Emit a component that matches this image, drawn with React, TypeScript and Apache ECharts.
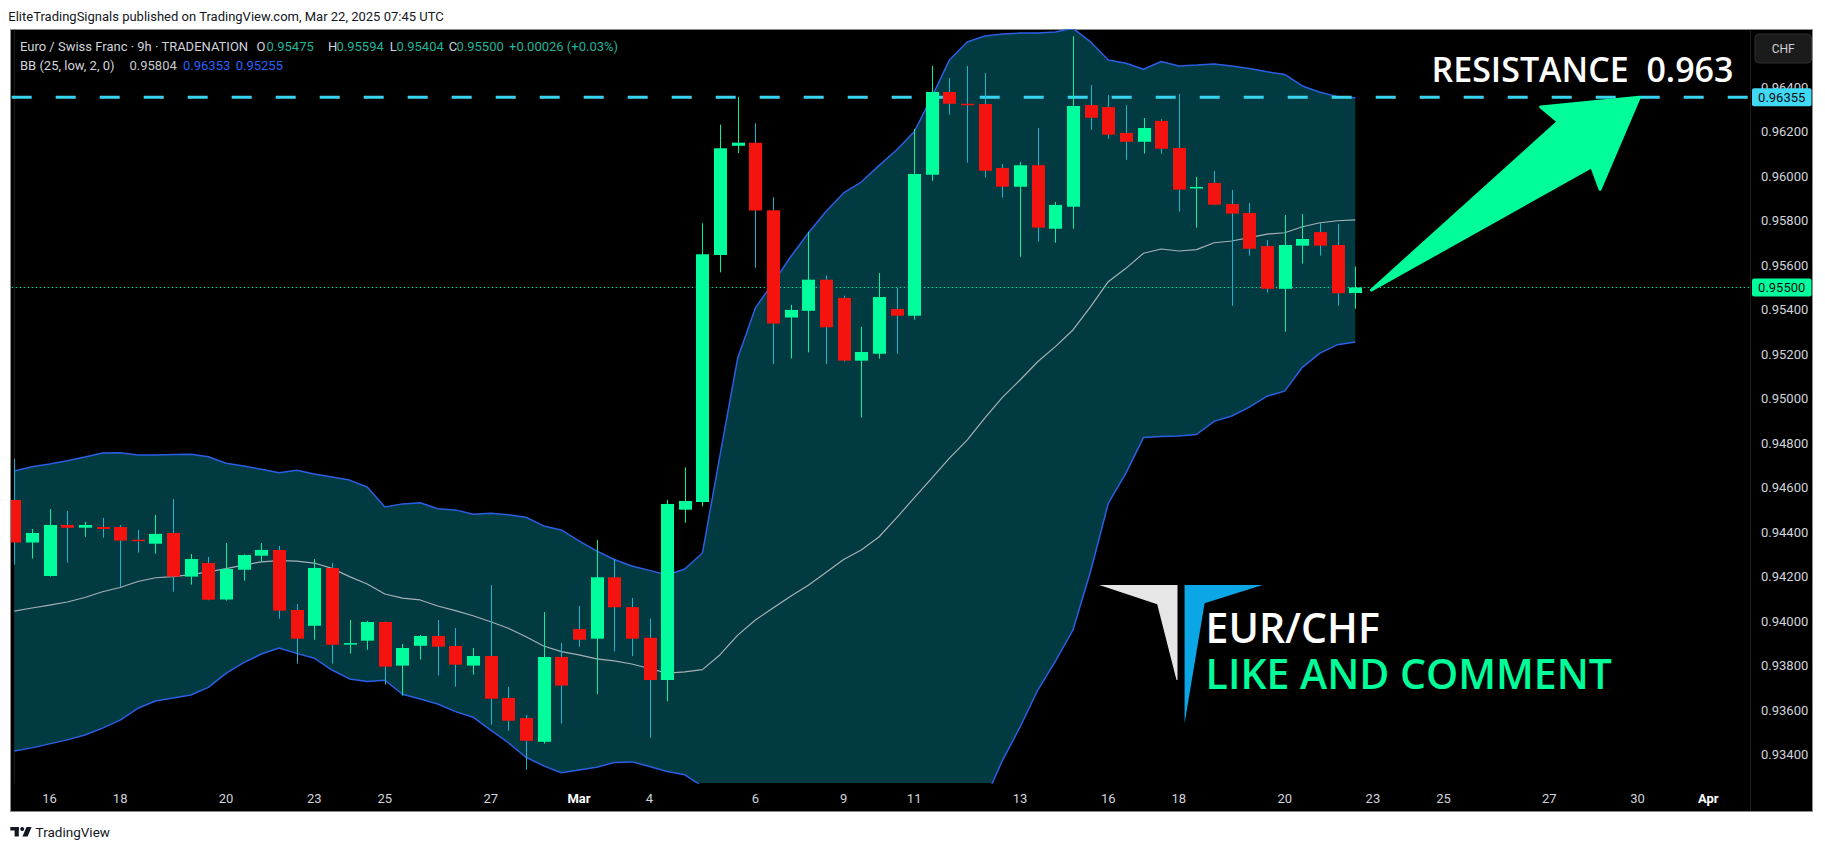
import React, { useEffect, useRef } from "react";
import * as echarts from "echarts";

// ---------- DATA ----------
const opens = [
  0.94544, 0.94353, 0.94203, 0.94432, 0.9442, 0.94423, 0.94423, 0.94366, 0.94348, 0.94396,
  0.942, 0.94261, 0.94097, 0.94231, 0.94294, 0.9432, 0.9405, 0.93979, 0.94239, 0.93899,
  0.93912, 0.93996, 0.938, 0.93889, 0.93933, 0.93888, 0.938, 0.93843, 0.93654, 0.93564,
  0.93458, 0.93839, 0.93964, 0.93921, 0.94197, 0.94063, 0.93925, 0.93735, 0.94501, 0.94535,
  0.95646, 0.96137, 0.96151, 0.95847, 0.95365, 0.95395, 0.95535, 0.95453, 0.95171, 0.95202,
  0.95403, 0.95373, 0.96007, 0.96379, 0.96326, 0.96325, 0.96037, 0.95953, 0.9605, 0.95764,
  0.95863, 0.9632, 0.96311, 0.96195, 0.96155, 0.96249, 0.96127, 0.95949, 0.9597, 0.95875,
  0.95835, 0.95686, 0.95494, 0.95688, 0.95749, 0.95691, 0.95475,
];
const highs = [
  0.94729, 0.94414, 0.94504, 0.94495, 0.94446, 0.94464, 0.94432, 0.9441, 0.94477, 0.94549,
  0.94302, 0.94288, 0.94351, 0.943, 0.94351, 0.94338, 0.94077, 0.94279, 0.94261, 0.94005,
  0.94001, 0.93998, 0.93897, 0.93938, 0.94005, 0.93969, 0.93879, 0.94162, 0.93704, 0.93578,
  0.94041, 0.93902, 0.94068, 0.94365, 0.94277, 0.94104, 0.94011, 0.94545, 0.94691, 0.95789,
  0.96232, 0.96357, 0.96238, 0.95906, 0.95422, 0.9575, 0.95554, 0.95463, 0.95323, 0.95565,
  0.95498, 0.96213, 0.96496, 0.96442, 0.96496, 0.96464, 0.96055, 0.96064, 0.96217, 0.95884,
  0.9663, 0.9641, 0.96365, 0.9632, 0.96262, 0.96257, 0.9637, 0.95997, 0.96024, 0.95938,
  0.9588, 0.95713, 0.95826, 0.9583, 0.9579, 0.95785, 0.95594,
];
const lows = [
  0.94254, 0.94281, 0.942, 0.94263, 0.94379, 0.94375, 0.94153, 0.94308, 0.94303, 0.94132,
  0.94164, 0.94094, 0.94092, 0.94182, 0.94267, 0.94011, 0.93809, 0.93916, 0.93809, 0.93854,
  0.93871, 0.93714, 0.93665, 0.93827, 0.93755, 0.93705, 0.93759, 0.93534, 0.93507, 0.93332,
  0.93449, 0.93539, 0.93885, 0.93671, 0.93863, 0.93842, 0.93475, 0.9364, 0.94442, 0.94516,
  0.95568, 0.96104, 0.95589, 0.95155, 0.95181, 0.95208, 0.95155, 0.95167, 0.94915, 0.9518,
  0.95202, 0.95355, 0.9598, 0.96277, 0.96061, 0.95994, 0.95904, 0.95638, 0.95706, 0.95701,
  0.95764, 0.96209, 0.96169, 0.96074, 0.96102, 0.96101, 0.95841, 0.95769, 0.9587, 0.95418,
  0.95643, 0.95476, 0.95301, 0.95607, 0.95643, 0.95418, 0.95404,
];
const closes = [
  0.94353, 0.94396, 0.94432, 0.9442, 0.94432, 0.94414, 0.94362, 0.9436, 0.94392, 0.942,
  0.94279, 0.94096, 0.94234, 0.94297, 0.9432, 0.94047, 0.93921, 0.94239, 0.93894, 0.93901,
  0.93996, 0.93795, 0.93879, 0.93933, 0.93885, 0.93804, 0.93843, 0.93651, 0.93552, 0.93462,
  0.93839, 0.9371, 0.93916, 0.94197, 0.94062, 0.93921, 0.93735, 0.94526, 0.9454, 0.95649,
  0.96126, 0.96151, 0.95846, 0.95338, 0.95399, 0.95535, 0.95321, 0.95171, 0.9521, 0.95457,
  0.95373, 0.9601, 0.96379, 0.96326, 0.96322, 0.96025, 0.95953, 0.9605, 0.95769, 0.95871,
  0.96316, 0.96263, 0.96187, 0.96155, 0.96217, 0.96124, 0.9594, 0.95952, 0.95872, 0.95832,
  0.95674, 0.95494, 0.95691, 0.95718, 0.95688, 0.95474, 0.955,
];
const bbUpper = [
  0.94675, 0.94694, 0.94706, 0.94721, 0.94738, 0.94756, 0.94757, 0.94747, 0.94747, 0.94749,
  0.9475, 0.94739, 0.9471, 0.94697, 0.94683, 0.94667, 0.94678, 0.94661, 0.94648, 0.94634,
  0.94603, 0.94513, 0.94527, 0.94532, 0.94505, 0.945, 0.9448, 0.94485, 0.94478, 0.94467,
  0.94428, 0.9441, 0.94361, 0.94316, 0.94277, 0.94248, 0.94228, 0.94207, 0.94234, 0.94306,
  0.94747, 0.95183, 0.95408, 0.95521, 0.95638, 0.95745, 0.95842, 0.95925, 0.95974, 0.96048,
  0.96118, 0.962, 0.96356, 0.96523, 0.96604, 0.96631, 0.9664, 0.96644, 0.96644, 0.96649,
  0.96665, 0.96604, 0.96523, 0.96508, 0.96481, 0.96516, 0.96496, 0.965, 0.96505, 0.96496,
  0.96485, 0.9647, 0.96458, 0.96406, 0.96378, 0.96358, 0.96353,
];
const bbBasis = [
  0.94045, 0.94059, 0.94072, 0.94086, 0.94106, 0.94132, 0.94151, 0.94178, 0.94195, 0.942,
  0.94209, 0.94221, 0.94236, 0.94252, 0.94266, 0.94272, 0.9427, 0.94261, 0.94237, 0.942,
  0.94167, 0.94122, 0.94103, 0.94095, 0.94068, 0.94047, 0.94024, 0.93997, 0.93968, 0.9393,
  0.93888, 0.93863, 0.93848, 0.9383, 0.93821, 0.93807, 0.93787, 0.93766, 0.93772, 0.93782,
  0.93849, 0.93937, 0.94005, 0.94059, 0.94112, 0.94161, 0.94219, 0.94277, 0.9432, 0.94378,
  0.94464, 0.94554, 0.94643, 0.94733, 0.94814, 0.94913, 0.95006, 0.95084, 0.95166, 0.95234,
  0.95309, 0.95414, 0.95526, 0.95586, 0.95654, 0.95673, 0.95664, 0.9567, 0.95701, 0.95709,
  0.95724, 0.9574, 0.95746, 0.95773, 0.95791, 0.958, 0.95804,
];
const bbLower = [
  0.93416, 0.9343, 0.93448, 0.93466, 0.93488, 0.93519, 0.93555, 0.93608, 0.93641, 0.93654,
  0.93668, 0.93702, 0.93765, 0.93813, 0.93852, 0.93879, 0.93855, 0.93833, 0.9378, 0.9374,
  0.93728, 0.93734, 0.93671, 0.9365, 0.93627, 0.93593, 0.93568, 0.9351, 0.93453, 0.93388,
  0.93349, 0.93318, 0.93331, 0.93343, 0.93364, 0.93367, 0.93346, 0.93324, 0.93309, 0.93257,
  0.92953, 0.92692, 0.92602, 0.92598, 0.92587, 0.92576, 0.92596, 0.92629, 0.92665, 0.92708,
  0.92809, 0.92907, 0.9293, 0.92944, 0.93025, 0.93196, 0.93373, 0.93524, 0.93689, 0.93819,
  0.9396, 0.94224, 0.94529, 0.94665, 0.94826, 0.9483, 0.94832, 0.94839, 0.94898, 0.94922,
  0.94962, 0.95011, 0.95034, 0.95141, 0.95205, 0.95243, 0.95255,
];
const priceTicks = [
  0.934, 0.936, 0.938, 0.94, 0.942, 0.944, 0.946, 0.948, 0.95, 0.952, 0.954, 0.956, 0.958,
  0.96, 0.962, 0.964,
];
const timeTickIndex = [2, 6, 12, 17, 21, 27, 32, 36, 42, 47, 51, 57, 62, 66, 72, 77, 81, 87, 92, 96];
const timeTickText = ["16", "18", "20", "23", "25", "27", "Mar", "4", "6", "9", "11", "13", "16", "18", "20", "23", "25", "27", "30", "Apr"];
const resistanceLevel = 0.96355;

// ---------- STYLE ----------
const W = 1825;
const H = 852;
const X_MIN = -0.147;
const X_MAX = 98.37;
const UP = "#00ff9c";
const DOWN = "#f5130f";
const UP_WICK = "#00f29a";
const DOWN_WICK = "#18b4cd";
const BAND_FILL = "#023a42";
const BAND_LINE = "#2b5fe3";
const CYAN = "#38d5f0";
const GREEN_ARROW = "#00fd9a";
const FONT = "Roboto";

export default function App() {
  const ref = useRef<HTMLDivElement>(null);

  useEffect(() => {
    const el = ref.current;
    if (!el) return;
    const chart = echarts.init(el, undefined, { renderer: "svg", width: W, height: H });

    const n = closes.length;
    const last = n - 1;
    const idx = closes.map((_, i) => i);
    const candleData = idx.map((i) => [i, opens[i], closes[i], lows[i], highs[i]]);
    const lowerData = idx.map((i) => [i, bbLower[i]]);
    const upperData = idx.map((i) => [i, bbUpper[i]]);
    const basisData = idx.map((i) => [i, bbBasis[i]]);
    const lastClose = closes[last];
    const change = lastClose - closes[last - 1];
    const pct = (change / closes[last - 1]) * 100;
    const sign = (v: number) => (v >= 0 ? "+" : "");

    const hdr = (text: string, x: number, y: number, fill: string) => ({
      type: "text",
      x,
      y,
      z: 60,
      silent: true,
      style: {
        text,
        fill,
        fontSize: 13,
        fontFamily: FONT,
        textAlign: "left",
        textVerticalAlign: "middle",
      },
    });

    const option: any = {
      animation: false,
      backgroundColor: "#ffffff",
      grid: { left: 11.7, top: 30, right: W - 1750, bottom: H - 783, containLabel: false },
      xAxis: {
        type: "value",
        min: X_MIN,
        max: X_MAX,
        axisLine: { show: false },
        axisTick: { show: false },
        splitLine: { show: false },
        axisLabel: {
          customValues: timeTickIndex,
          margin: 9,
          color: "#d1d4dc",
          fontSize: 13,
          fontFamily: FONT,
          formatter: (v: number) => {
            const k = timeTickIndex.indexOf(Math.round(v));
            if (k < 0) return "";
            const t = timeTickText[k];
            return /[A-Za-z]/.test(t) ? `{m|${t}}` : t;
          },
          rich: { m: { color: "#ffffff", fontWeight: "bold", fontSize: 13, fontFamily: FONT } },
        },
      },
      yAxis: {
        type: "value",
        position: "right",
        min: 0.932721,
        max: 0.966576,
        axisLine: { show: true, lineStyle: { color: "#1c1c1c", width: 1 } },
        axisTick: { show: false },
        splitLine: { show: false },
        axisLabel: {
          customValues: priceTicks,
          margin: 11,
          color: "#d1d4dc",
          fontSize: 13,
          fontFamily: FONT,
          formatter: (v: number) => v.toFixed(5),
        },
      },
      series: [
        {
          // Bollinger band fill: one polygon through upper points, back along lower points
          type: "custom",
          data: [[0, bbLower[0], bbUpper[0]]],
          clip: true,
          z: 1,
          silent: true,
          encode: { x: 0, y: [1, 2] },
          renderItem: (_p: any, api: any) => {
            const pts: number[][] = [];
            for (let i = 0; i < n; i++) pts.push(api.coord([i, bbUpper[i]]));
            for (let i = n - 1; i >= 0; i--) pts.push(api.coord([i, bbLower[i]]));
            return {
              type: "polygon",
              shape: { points: pts },
              style: { fill: BAND_FILL },
            };
          },
        },
        {
          type: "line",
          data: basisData,
          symbol: "none",
          lineStyle: { color: "#b9bcc4", width: 1.2, opacity: 0.9 },
          z: 2,
          silent: true,
        },
        {
          type: "line",
          data: lowerData,
          symbol: "none",
          lineStyle: { color: BAND_LINE, width: 1.5 },
          z: 2,
          silent: true,
        },
        {
          type: "line",
          data: upperData,
          symbol: "none",
          lineStyle: { color: BAND_LINE, width: 1.5 },
          z: 2,
          silent: true,
        },
        {
          type: "line",
          data: [
            [X_MIN, resistanceLevel],
            [X_MAX, resistanceLevel],
          ],
          symbol: "none",
          lineStyle: { color: CYAN, width: 3, type: [20, 24] },
          z: 3,
          silent: true,
        },
        {
          type: "line",
          data: [
            [X_MIN, lastClose],
            [X_MAX, lastClose],
          ],
          symbol: "none",
          lineStyle: { color: "#00e895", width: 1, type: [1.5, 2.5] },
          z: 3,
          silent: true,
        },
        {
          type: "custom",
          data: candleData,
          clip: true,
          z: 4,
          silent: true,
          encode: { x: 0, y: [1, 2, 3, 4] },
          renderItem: (_p: any, api: any) => {
            const i = api.value(0);
            const o = api.value(1);
            const c = api.value(2);
            const l = api.value(3);
            const h = api.value(4);
            const up = c >= o;
            const pO = api.coord([i, o]);
            const pC = api.coord([i, c]);
            const pL = api.coord([i, l]);
            const pH = api.coord([i, h]);
            const bw = api.size([1, 0])[0] * 0.74;
            const xc = Math.round(pO[0]) + 0.5;
            const top = Math.min(pO[1], pC[1]);
            const hh = Math.max(Math.abs(pO[1] - pC[1]), 1.5);
            return {
              type: "group",
              children: [
                {
                  type: "line",
                  shape: { x1: xc, y1: pH[1], x2: xc, y2: pL[1] },
                  style: { stroke: up ? UP_WICK : DOWN_WICK, lineWidth: 1 },
                },
                {
                  type: "rect",
                  shape: { x: xc - bw / 2, y: top, width: bw, height: hh },
                  style: { fill: up ? UP : DOWN },
                },
              ],
            };
          },
        },
      ],
    };

    chart.setOption(option);

    // price badges placed through the library's own y scale
    const badge = (value: number, bg: string) => {
      const y = chart.convertToPixel({ yAxisIndex: 0 }, value) as number;
      return [
        {
          type: "rect",
          z: 70,
          silent: true,
          shape: { x: 1752, y: y - 9, width: 59.5, height: 18, r: 2 },
          style: { fill: bg },
        },
        {
          type: "text",
          x: 1781.7,
          y: y + 0.5,
          z: 71,
          silent: true,
          style: {
            text: value.toFixed(5),
            fill: "#0b0b0b",
            fontSize: 13,
            fontFamily: FONT,
            textAlign: "center",
            textVerticalAlign: "middle",
          },
        },
      ];
    };

    const elements: any[] = [
      {
        type: "rect",
        z: -10,
        silent: true,
        shape: { x: 10.5, y: 29.5, width: 1802, height: 782 },
        style: { fill: "#000000", stroke: "#8c8c8c", lineWidth: 1 },
      },
      {
        type: "line",
        z: -5,
        silent: true,
        shape: { x1: 1750.5, y1: 30, x2: 1750.5, y2: 811 },
        style: { stroke: "#1c1c1c", lineWidth: 1 },
      },
      {
        type: "text",
        x: 8.3,
        y: 16,
        z: 60,
        silent: true,
        style: {
          text: "EliteTradingSignals published on TradingView.com, Mar 22, 2025 07:45 UTC",
          fill: "#131722",
          fontSize: 13,
          fontFamily: FONT,
          textAlign: "left",
          textVerticalAlign: "middle",
        },
      },
      hdr("Euro / Swiss Franc · 9h · TRADENATION", 20, 46.7, "#d1d4dc"),
      hdr("O", 256.5, 46.7, "#d1d4dc"),
      hdr(opens[last].toFixed(5), 266.5, 46.7, "#22b39b"),
      hdr("H", 328, 46.7, "#d1d4dc"),
      hdr(highs[last].toFixed(5), 336.5, 46.7, "#22b39b"),
      hdr("L", 389.7, 46.7, "#d1d4dc"),
      hdr(lows[last].toFixed(5), 396.5, 46.7, "#22b39b"),
      hdr("C", 448.7, 46.7, "#d1d4dc"),
      hdr(lastClose.toFixed(5), 456.5, 46.7, "#22b39b"),
      hdr(`${sign(change)}${change.toFixed(5)} (${sign(pct)}${pct.toFixed(2)}%)`, 509, 46.7, "#22b39b"),
      hdr("BB (25, low, 2, 0)", 20, 65.7, "#d1d4dc"),
      hdr(bbBasis[last].toFixed(5), 129.5, 65.7, "#c8cad0"),
      hdr(bbUpper[last].toFixed(5), 183, 65.7, "#2962ff"),
      hdr(bbLower[last].toFixed(5), 235.7, 65.7, "#2962ff"),
      {
        type: "rect",
        z: 60,
        silent: true,
        shape: { x: 1755, y: 34, width: 56.5, height: 29, r: 4 },
        style: { fill: "#1b1b1b", stroke: "#2e2e2e", lineWidth: 1 },
      },
      {
        type: "text",
        x: 1783.2,
        y: 48.7,
        z: 61,
        silent: true,
        style: {
          text: "CHF",
          fill: "#d1d4dc",
          fontSize: 12,
          fontFamily: FONT,
          textAlign: "center",
          textVerticalAlign: "middle",
        },
      },
      {
        type: "text",
        x: 1733.5,
        y: 68.7,
        z: 60,
        silent: true,
        style: {
          text: "RESISTANCE  0.963",
          fill: "#ffffff",
          fontSize: 34,
          fontWeight: 600,
          fontFamily: "Open Sans",
          textAlign: "right",
          textVerticalAlign: "middle",
        },
      },
      {
        type: "polygon",
        z: 55,
        silent: true,
        shape: {
          points: [
            [1371.5, 290],
            [1558.3, 121.7],
            [1540.7, 107],
            [1639.3, 97.3],
            [1600, 189.3],
            [1591.7, 166.7],
          ],
        },
        style: { fill: GREEN_ARROW, stroke: GREEN_ARROW, lineWidth: 3, lineJoin: "round" },
      },
      {
        type: "polygon",
        z: 55,
        silent: true,
        shape: {
          points: [
            [1099.3, 585],
            [1177.5, 585],
            [1177.5, 680],
            [1176.5, 680],
            [1157.2, 604.3],
          ],
        },
        style: { fill: "#e6e6e6" },
      },
      {
        type: "polygon",
        z: 55,
        silent: true,
        shape: {
          points: [
            [1184.6, 585],
            [1262.5, 585],
            [1204.6, 603.3],
            [1184.6, 723.3],
          ],
        },
        style: { fill: "#0aa6e6" },
      },
      {
        type: "text",
        x: 1205.6,
        y: 626.7,
        z: 56,
        silent: true,
        style: {
          text: "EUR/CHF",
          fill: "#ffffff",
          fontSize: 41,
          fontWeight: 600,
          lineHeight: 34,
          fontFamily: "Open Sans",
          textAlign: "left",
          textVerticalAlign: "middle",
        },
      },
      {
        type: "text",
        x: 1205.6,
        y: 673.3,
        z: 56,
        silent: true,
        style: {
          text: "LIKE AND COMMENT",
          fill: GREEN_ARROW,
          fontSize: 41,
          fontWeight: 600,
          lineHeight: 34,
          fontFamily: "Open Sans",
          textAlign: "left",
          textVerticalAlign: "middle",
        },
      },
      {
        type: "rect",
        z: 60,
        silent: true,
        shape: { x: 10.3, y: 827, width: 8.5, height: 3.6 },
        style: { fill: "#131722" },
      },
      {
        type: "rect",
        z: 60,
        silent: true,
        shape: { x: 14.6, y: 827, width: 4.2, height: 9.5 },
        style: { fill: "#131722" },
      },
      {
        type: "circle",
        z: 60,
        silent: true,
        shape: { cx: 22.2, cy: 829, r: 2 },
        style: { fill: "#131722" },
      },
      {
        type: "polygon",
        z: 60,
        silent: true,
        shape: {
          points: [
            [26.5, 827],
            [31.6, 827],
            [27.6, 836.5],
            [22.4, 836.5],
          ],
        },
        style: { fill: "#131722" },
      },
      {
        type: "text",
        x: 35.6,
        y: 832,
        z: 60,
        silent: true,
        style: {
          text: "TradingView",
          fill: "#131722",
          fontSize: 13.5,
          fontFamily: FONT,
          textAlign: "left",
          textVerticalAlign: "middle",
        },
      },
      ...badge(resistanceLevel, "#40d9f5"),
      ...badge(lastClose, UP),
    ];

    chart.setOption({ graphic: { elements } });

    return () => {
      chart.dispose();
    };
  }, []);

  return (
    <div
      ref={ref}
      style={{ position: "absolute", left: 0, top: 0, width: W, height: H }}
    />
  );
}
